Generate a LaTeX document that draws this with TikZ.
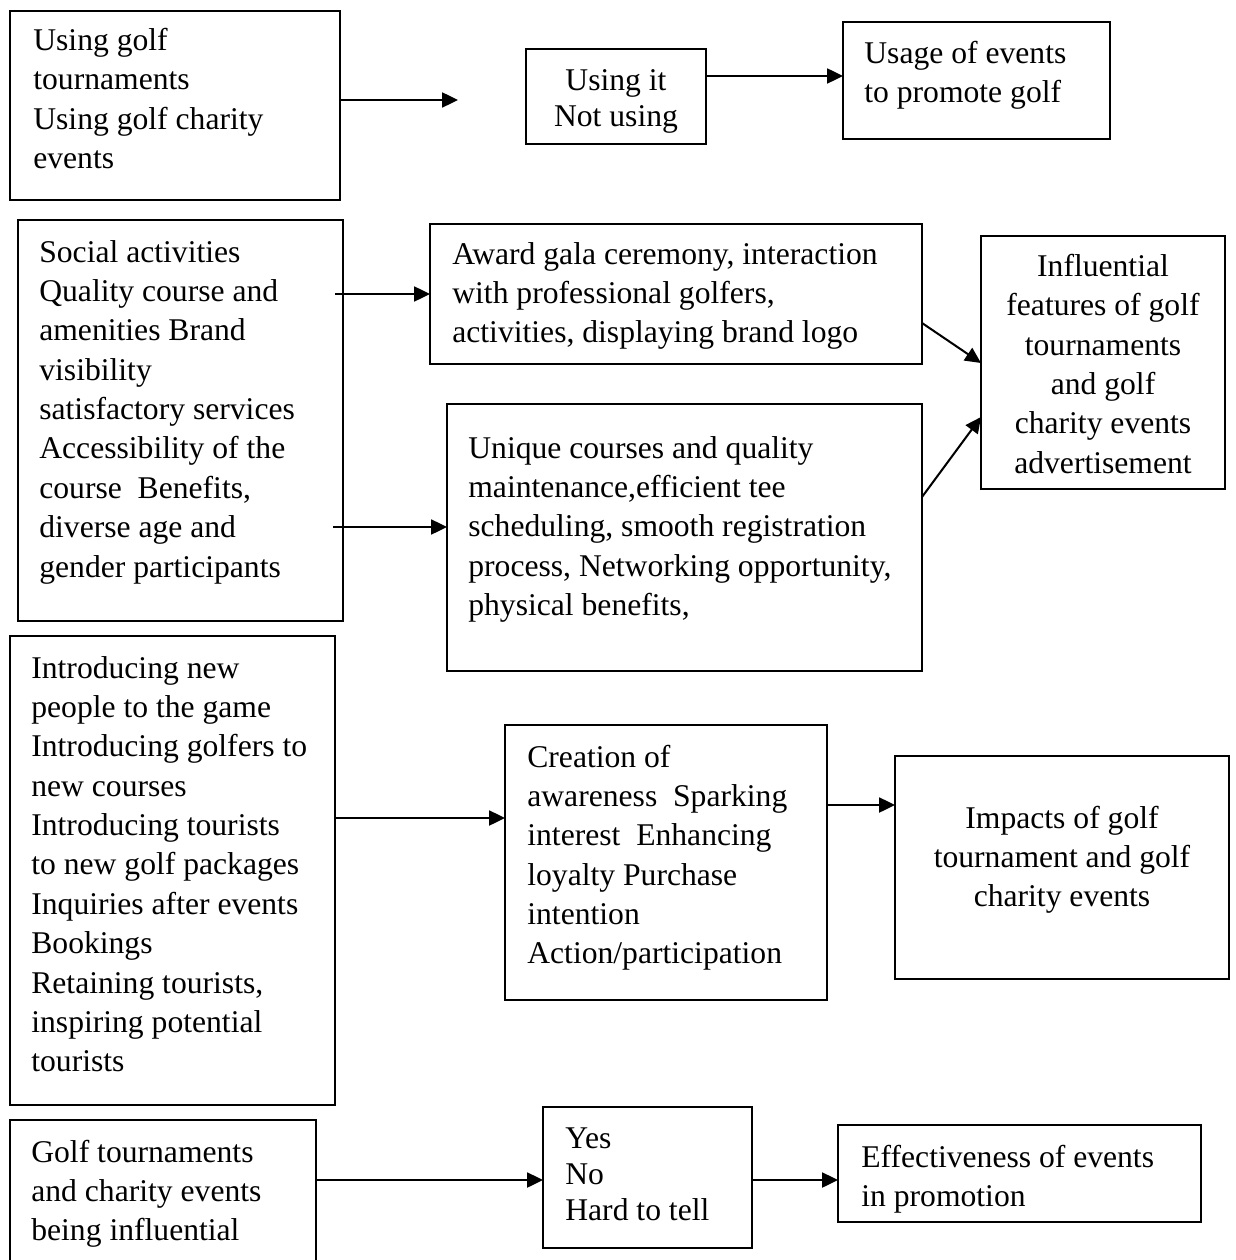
\documentclass[tikz,border=0pt]{standalone}
\usepackage{fontspec}
\setmainfont{Liberation Serif}
\usetikzlibrary{arrows.meta,fit}
\begin{document}
\begin{tikzpicture}[x=0.02cm,y=-0.02cm,
  bx/.style={draw,line width=1.15pt,inner sep=0pt,outer sep=0pt},
  arr/.style={line width=1.15pt,-{Triangle[length=9pt,width=8.5pt]}},
  tl/.style={inner sep=0pt,anchor=north west,align=left,font=\fontsize{18pt}{22.4pt}\selectfont},
  tc/.style={inner sep=0pt,anchor=north,align=center,font=\fontsize{18pt}{22.4pt}\selectfont},
  tls/.style={inner sep=0pt,anchor=north west,align=left,font=\fontsize{18pt}{20.6pt}\selectfont},
  tcs/.style={inner sep=0pt,anchor=north,align=center,font=\fontsize{18pt}{20.6pt}\selectfont}]
\useasboundingbox (0,0) rectangle (1236,1260);
% ---------- row 1
\node[bx,fit={(10,11)(340,200)}] (b1) {};
\node[tl] (t1) at (33,22.6) {\strut Using golf\\tournaments\\Using golf charity\\events};
\coordinate (e1) at (458,100);
\node[bx,fit={(526,49)(706,144)}] (b2) {};
\node[tcs] (t2) at (616,64.4) {\strut Using it\\Not using};
\node[bx,fit={(843,22)(1110,139)}] (b3) {};
\node[tl] (t3) at (864,35.3) {\strut Usage of events\\to promote golf};
\draw[arr] (b1.east |- e1) -- (e1);
\draw[arr] (b2.east |- 0,76) -- (b3.west |- 0,76);
% ---------- row 2
\node[bx,fit={(18,220)(343,621)}] (b4) {};
\node[tl] (t4) at (39,234.3) {\strut Social activities\\Quality course and\\amenities Brand\\visibility\\satisfactory services\\Accessibility of the\\course\ \ Benefits,\\diverse age and\\gender participants};
\node[bx,fit={(430,224)(922,364)}] (b5) {};
\node[tl] (t5) at (452,236.3) {\strut Award gala ceremony, interaction\\with professional golfers,\\activities, displaying brand logo};
\node[bx,fit={(447,404)(922,671)}] (b6) {};
\node[tl] (t6) at (468,430.3) {\strut Unique courses and quality\\maintenance,efficient tee\\scheduling, smooth registration\\process, Networking opportunity,\\physical benefits,};
\node[bx,fit={(981,236)(1225,489)}] (b7) {};
\node[tc] (t7) at (1103,248.6) {\strut Influential\\features of golf\\tournaments\\and golf\\charity events\\advertisement};
\draw[arr,shorten <=-0.16cm] (b4.east |- 0,294) -- (b5.west |- 0,294);
\draw[arr,shorten <=-0.2cm] (b4.east |- 0,527) -- (b6.west |- 0,527);
\draw[arr] (b5.east |- 0,323) -- (b7.west |- 0,363);
\draw[arr] (b6.east |- 0,497) -- (b7.west |- 0,417);
% ---------- row 3
\node[bx,fit={(10,636)(335,1105)}] (b8) {};
\node[tl] (t8) at (31,650.3) {\strut Introducing new\\people to the game\\Introducing golfers to\\new courses\\Introducing tourists\\to new golf packages\\Inquiries after events\\Bookings\\Retaining tourists,\\inspiring potential\\tourists};
\node[bx,fit={(505,725)(827,1000)}] (b9) {};
\node[tl] (t9) at (527,739.3) {\strut Creation of\\awareness\ \ Sparking\\interest\ \ Enhancing\\loyalty Purchase\\intention\\Action/participation};
\node[bx,fit={(895,756)(1229,979)}] (b10) {};
\node[tc] (t10) at (1062,800.3) {\strut Impacts of golf\\tournament and golf\\charity events};
\draw[arr] (b8.east |- 0,818) -- (b9.west |- 0,818);
\draw[arr] (b9.east |- 0,805) -- (b10.west |- 0,805);
% ---------- row 4
\node[bx,fit={(10,1120)(316,1275)}] (b11) {};
\node[tl] (t11) at (31,1134.3) {\strut Golf tournaments\\and charity events\\being influential};
\node[bx,fit={(543,1107)(752,1248)}] (b12) {};
\node[tls] (t12) at (565,1122.4) {\strut Yes\\No\\Hard to tell};
\node[bx,fit={(838,1125)(1201,1222)}] (b13) {};
\node[tl] (t13) at (861,1139.3) {\strut Effectiveness of events\\in promotion};
\draw[arr] (b11.east |- 0,1180) -- (b12.west |- 0,1180);
\draw[arr] (b12.east |- 0,1180) -- (b13.west |- 0,1180);
\end{tikzpicture}
\end{document}
